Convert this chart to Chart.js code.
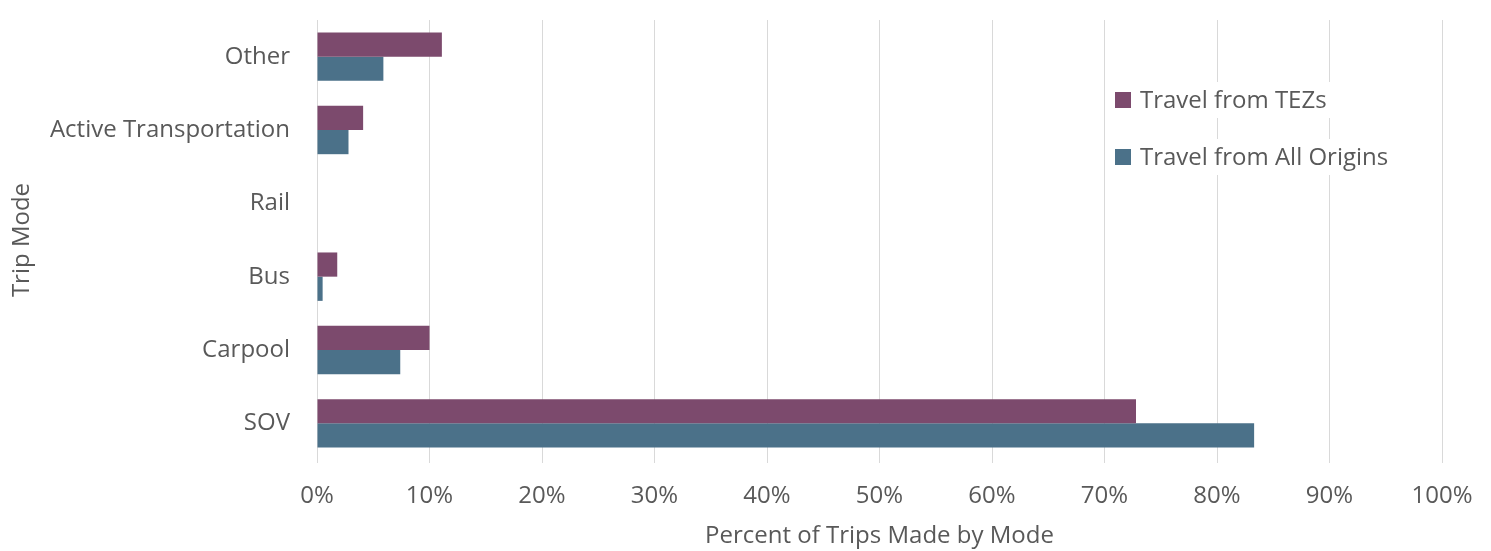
<!DOCTYPE html>
<html>
<head>
<meta charset="utf-8">
<script src="https://cdn.jsdelivr.net/npm/chart.js@4"></script>
<style>
    html, body { margin: 0; padding: 0; background: #fff; }
    #wrap { width: 1491px; height: 551px; position: relative; }
</style>
</head>
<body>
<div id="wrap"><canvas id="modeChart" width="1491" height="551"></canvas></div>
<script>
const modes = ['Other', 'Active Transportation', 'Rail', 'Bus', 'Carpool', 'SOV'];
const tezShare = [11.1, 4.1, 0, 1.8, 10.0, 72.8];
const allOriginsShare = [5.9, 2.8, 0, 0.5, 7.4, 83.3];
const xTicks = [0, 10, 20, 30, 40, 50, 60, 70, 80, 90, 100];

const TEXT_GREY = '#595959';
const FONT = 'Open Sans';
const FONT_SIZE = 24;

// legend sits inside the plot, upper right, on white strips
const insideLegend = {
    id: 'insideLegend',
    afterDraw(chart) {
        const { ctx, chartArea } = chart;
        const x0 = chartArea.left + 798;
        const rows = [80, 137];
        ctx.save();
        ctx.font = `${FONT_SIZE}px "${FONT}"`;
        ctx.textBaseline = 'middle';
        chart.data.datasets.forEach((ds, i) => {
            const y = chartArea.top + rows[i];
            const w = ctx.measureText(ds.label).width;
            ctx.fillStyle = '#fff';
            ctx.fillRect(x0 - 6, y - 18, w + 38, 36);
            ctx.fillStyle = ds.backgroundColor;
            ctx.fillRect(x0, y - 8, 16, 16);
            ctx.fillStyle = TEXT_GREY;
            ctx.textAlign = 'left';
            ctx.fillText(ds.label, x0 + 25, y + 1);
        });
        ctx.restore();
    }
};

new Chart(document.getElementById('modeChart'), {
    type: 'bar',
    data: {
        labels: modes,
        datasets: [
            { label: 'Travel from TEZs', data: tezShare, backgroundColor: '#7c4a6d' },
            { label: 'Travel from All Origins', data: allOriginsShare, backgroundColor: '#4b7189' }
        ]
    },
    options: {
        indexAxis: 'y',
        responsive: false,
        animation: false,
        layout: { padding: { top: 20, right: 49, left: 0, bottom: 0 } },
        datasets: { bar: { categoryPercentage: 0.66, barPercentage: 1 } },
        scales: {
            x: {
                min: 0,
                max: 100,
                afterBuildTicks: (scale) => { scale.ticks = xTicks.map((v) => ({ value: v })); },
                afterFit: (scale) => {
                    scale.height = 91;
                    scale.paddingLeft = 0;
                    scale.paddingRight = 0;
                },
                grid: { color: '#d9d9d9', tickLength: 3 },
                border: { display: false },
                ticks: {
                    color: TEXT_GREY,
                    font: { family: FONT, size: FONT_SIZE },
                    padding: 19,
                    callback: (v) => `${v}%`
                },
                title: {
                    display: true,
                    text: 'Percent of Trips Made by Mode',
                    color: TEXT_GREY,
                    font: { family: FONT, size: FONT_SIZE },
                    padding: { top: 4, bottom: 0 }
                }
            },
            y: {
                afterFit: (scale) => {
                    scale.width = 317;
                    scale.paddingTop = 0;
                    scale.paddingBottom = 0;
                },
                grid: { display: false, drawTicks: false },
                border: { display: false },
                ticks: {
                    color: TEXT_GREY,
                    font: { family: FONT, size: FONT_SIZE },
                    padding: 27
                },
                title: {
                    display: true,
                    text: 'Trip Mode',
                    color: TEXT_GREY,
                    font: { family: FONT, size: FONT_SIZE },
                    padding: { top: 8, bottom: 0 }
                }
            }
        },
        plugins: {
            legend: { display: false },
            tooltip: { enabled: false }
        }
    },
    plugins: [insideLegend]
});
</script>
</body>
</html>
